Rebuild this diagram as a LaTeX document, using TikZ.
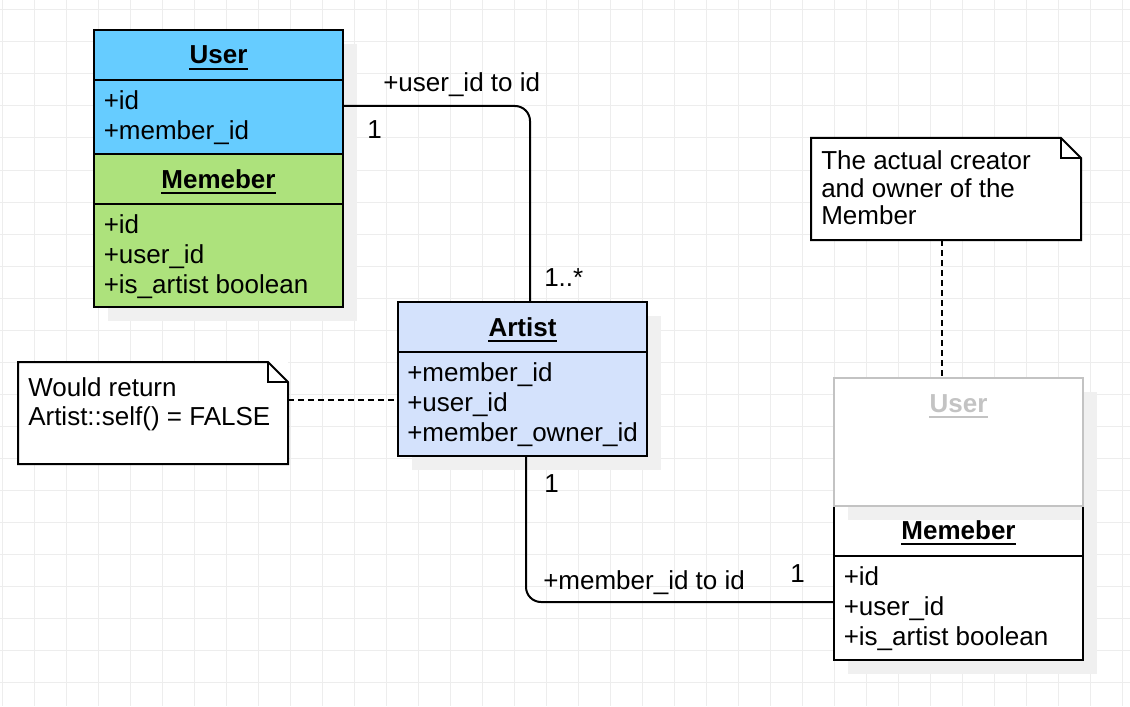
\documentclass[tikz,border=0pt]{standalone}
\usepackage{fontspec}
\setmainfont{Liberation Sans}
\definecolor{userblue}{HTML}{66CCFF}
\definecolor{memgreen}{HTML}{ADE27C}
\definecolor{artblue}{HTML}{D4E2FC}
\definecolor{gridc}{HTML}{EDEDED}
\definecolor{shadowc}{HTML}{F0F0F0}
\definecolor{ghost}{HTML}{C3C3C3}
\newcommand\txtsize{\fontsize{19.5}{22}\selectfont}
\begin{document}
\begin{tikzpicture}[x=0.75pt,y=-0.75pt,
  gridline/.style={draw=gridc,line width=0.75pt},
  box/.style={draw=black,line width=1.5pt,inner sep=0pt,outer sep=0pt,anchor=north west,minimum width=186.75pt},
  notebox/.style={fill=white,inner sep=0pt,outer sep=0pt,anchor=north west,minimum width=202.5pt,minimum height=76.5pt},
  edge/.style={draw=black,line width=1.5pt},
  dashline/.style={draw=black,line width=1.5pt,dash pattern=on 4.5pt off 3pt},
  attr/.style={anchor=base west,inner sep=0pt,font=\txtsize},
  title/.style={anchor=base,inner sep=0pt,font=\txtsize\bfseries},
  uline/.style={draw,line width=1.35pt},
  lbl/.style={anchor=base west,inner sep=0pt,font=\txtsize}]
\useasboundingbox (0,0) rectangle (1130,706);
\fill[white] (0,0) rectangle (1130,706);
% grid
\foreach \gx in {2,34,...,1122} \draw[gridline] (\gx,0) -- (\gx,706);
\foreach \gy in {10,42,...,698} \draw[gridline] (0,\gy) -- (1130,\gy);
% shadows
\fill[shadowc] (108,44) rectangle (357,321);
\fill[shadowc] (412,316) rectangle (661,470);
\fill[shadowc] (848,392) rectangle (1097,674);

% left stack
\node[box,fill=userblue,minimum height=37.5pt] (uhead) at (94,30) {};
\node[box,fill=userblue,minimum height=55.5pt] (ubody) at (94,80) {};
\node[box,fill=memgreen,minimum height=37.5pt] (mhead) at (94,154) {};
\node[box,fill=memgreen,minimum height=77.25pt] (mbody) at (94,204) {};
\node[title] (tuser) at (218.5,64) {User};
\draw[uline] ([yshift=-3.75pt]tuser.base west) -- ([yshift=-3.75pt]tuser.base east);
\node[attr] (u1) at (103.5,110) {+id};
\node[attr] (u2) at (103.5,140) {+member\_id};
\node[title] (tmem) at (218.5,188) {Memeber};
\draw[uline] ([yshift=-3.75pt]tmem.base west) -- ([yshift=-3.75pt]tmem.base east);
\node[attr] (m1) at (103.5,233) {+id};
\node[attr] (m2) at (103.5,263) {+user\_id};
\node[attr] (m3) at (103.5,293) {+is\_artist boolean};

% artist
\node[box,fill=artblue,minimum height=37.5pt] (ahead) at (398,302) {};
\node[box,fill=artblue,minimum height=78pt] (abody) at (398,352) {};
\node[title] (tart) at (522.5,336) {Artist};
\draw[uline] ([yshift=-3.75pt]tart.base west) -- ([yshift=-3.75pt]tart.base east);
\node[attr] (a1) at (407,381) {+member\_id};
\node[attr] (a2) at (407,411) {+user\_id};
\node[attr] (a3) at (407,441) {+member\_owner\_id};

% right stack
\node[box,fill=white,minimum height=37.5pt] (rmhead) at (834,506) {};
\node[box,fill=white,minimum height=78pt] (rmbody) at (834,556) {};
\fill[shadowc] (848,507) rectangle (1081.5,520);
\node[box,draw=ghost,fill=white,minimum height=96pt] (guser) at (834,378) {};
\node[title,text=ghost] (tguser) at (958.5,412) {User};
\draw[uline,ghost] ([yshift=-3.75pt]tguser.base west) -- ([yshift=-3.75pt]tguser.base east);
\node[title] (trmem) at (958.5,539) {Memeber};
\draw[uline] ([yshift=-3.75pt]trmem.base west) -- ([yshift=-3.75pt]trmem.base east);
\node[attr] (r1) at (843.5,585) {+id};
\node[attr] (r2) at (843.5,615) {+user\_id};
\node[attr] (r3) at (843.5,645) {+is\_artist boolean};

% notes
\node[notebox] (note1) at (18,362) {};
\draw[edge] (note1.south west) -- (note1.north west) -- ([xshift=-15pt]note1.north east) -- ([yshift=-15pt]note1.north east) -- (note1.south east) -- cycle;
\draw[edge] ([xshift=-15pt]note1.north east) |- ([yshift=-15pt]note1.north east);
\node[lbl] (n1a) at (28,396) {Would return};
\node[lbl] (n1b) at (28,425) {Artist::self() = FALSE};

\node[notebox] (note2) at (811,138) {};
\draw[edge] (note2.south west) -- (note2.north west) -- ([xshift=-15pt]note2.north east) -- ([yshift=-15pt]note2.north east) -- (note2.south east) -- cycle;
\draw[edge] ([xshift=-15pt]note2.north east) |- ([yshift=-15pt]note2.north east);
\node[lbl] (n2a) at (821,170) {The actual creator};
\node[lbl] (n2b) at (821,197) {and owner of the};
\node[lbl] (n2c) at (821,224) {Member};

% connectors
\draw[edge,rounded corners=11.25pt] ([yshift=8.25pt]ubody.east) -| ([xshift=5.625pt]ahead.north);
\draw[edge,rounded corners=11.25pt] ([xshift=2.625pt]abody.south) |- ([yshift=4.5pt]rmbody.west);
\draw[dashline] ([yshift=9.75pt]note1.east) -- ([yshift=9.75pt]note1.east -| abody.west);
\draw[dashline] ([xshift=-3pt]note2.south) -- ([xshift=-3pt]note2.south |- guser.north);

% connector labels
\node[lbl] (l1) at (383,92) {+user\_id to id};
\node[lbl] (l2) at (367,139) {1};
\node[lbl] (l3) at (544,286) {1..*};
\node[lbl] (l4) at (544,492) {1};
\node[lbl] (l5) at (543,589) {+member\_id to id};
\node[lbl] (l6) at (790,582) {1};
\end{tikzpicture}
\end{document}
